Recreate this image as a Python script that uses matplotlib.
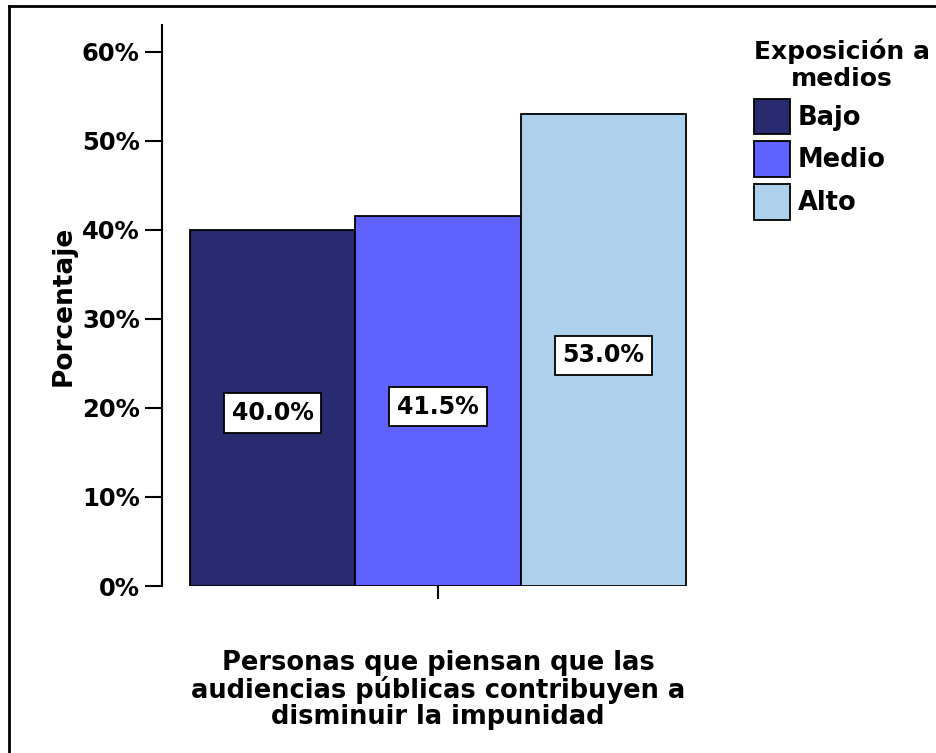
import matplotlib.pyplot as plt
from matplotlib.lines import Line2D

categories = ["Bajo", "Medio", "Alto"]
values = [40.0, 41.5, 53.0]
colors = ["#292B70", "#5F62FF", "#ADD0EC"]
yticks = [0, 10, 20, 30, 40, 50, 60]
xlabel = "Personas que piensan que las\naudiencias públicas contribuyen a\ndisminuir la impunidad"
legend_title = "Exposición a\nmedios"

plt.rcParams['font.family'] = 'DejaVu Sans'
plt.rcParams['font.weight'] = 'bold'

W, H = 936, 753
fig = plt.figure(figsize=(W / 100, H / 100), dpi=100)
ax = fig.add_axes([162 / W, 1 - 586 / H, (714 - 162) / W, (586 - 25) / H])

xpos = [-1, 0, 1]
bars = ax.bar(xpos, values, width=1.0, color=colors, edgecolor="black",
              linewidth=1.3, label=categories)

for x, v in zip(xpos, values):
    ax.text(x, v / 2 - 0.6, f"{v:.1f}%", ha="center", va="center",
            fontsize=17, fontweight="bold",
            bbox=dict(boxstyle="square,pad=0.33", facecolor="white",
                      edgecolor="black", linewidth=1.3))

ax.set_xlim(-1.669, 1.669)
ax.set_ylim(0, 63)
ax.set_yticks(yticks)
ax.set_yticklabels([f"{t}%" for t in yticks], fontsize=17.5, fontweight="bold")
ax.set_xticks([0])
ax.set_xticklabels([""])
ax.tick_params(axis="y", length=12, width=1.5, pad=4)
ax.tick_params(axis="x", length=9, width=1.5)

for s in ["top", "right", "bottom"]:
    ax.spines[s].set_visible(False)
ax.spines["left"].set_linewidth(1.5)

ax.set_ylabel("Porcentaje", fontsize=19, fontweight="bold", labelpad=4)
fig.text(438 / W, 1 - 690 / H, xlabel, ha="center", va="center",
         fontsize=18.5, fontweight="bold", linespacing=1.0)

fs = 18.5 * 100 / 72
leg = ax.legend(handles=list(bars), labels=categories, loc="upper left",
                bbox_to_anchor=(754 / W, 1 - 39 / H),
                bbox_transform=fig.transFigure, frameon=False,
                fontsize=18.5, title=legend_title, alignment="left",
                title_fontproperties={"size": 18, "weight": "bold"},
                handlelength=36 / fs, handleheight=36 / fs + 0.35,
                labelspacing=0.28, handletextpad=0.3,
                borderpad=0, borderaxespad=0)
for t in leg.get_texts():
    t.set_fontweight("bold")
leg.get_title().set_linespacing(1.15)
leg.get_title().set_multialignment("center")

# outer frame (top and left edges only)
fig.add_artist(Line2D([9 / W, 1.0], [1 - 6 / H, 1 - 6 / H],
                      transform=fig.transFigure, color="black", linewidth=2))
fig.add_artist(Line2D([9 / W, 9 / W], [1 - 6 / H, 0.0],
                      transform=fig.transFigure, color="black", linewidth=2))

fig.savefig("out.png", dpi=100)
